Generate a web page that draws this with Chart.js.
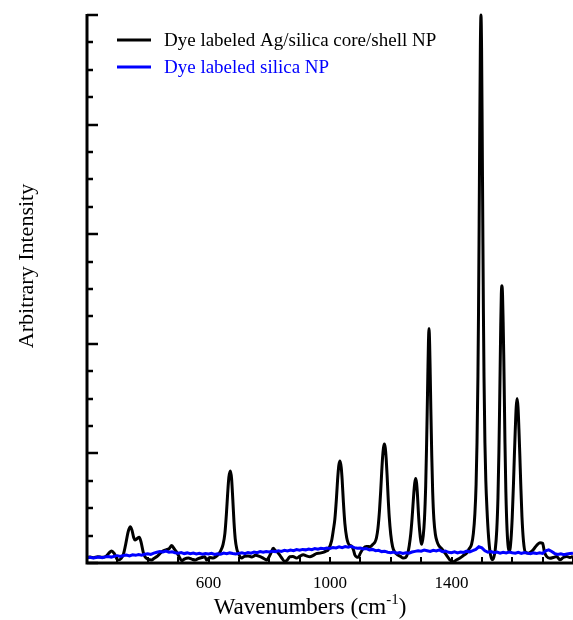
<!DOCTYPE html>
<html>
<head>
<meta charset="utf-8">
<script src="https://cdn.jsdelivr.net/npm/chart.js"></script>
<style>
  html, body { margin: 0; padding: 0; background: #fff; }
  #spectra { display: block; }
</style>
</head>
<body>
<canvas id="spectra" width="573" height="620"></canvas>
<script>
// Raman spectra: dye labelled Ag/silica core/shell NP vs dye labelled silica NP

const seriesNames = ['Dye labeled Ag/silica core/shell NP', 'Dye labeled silica NP'];
const xTickLabels = [600, 1000, 1400];

// core/shell spectrum (wavenumber, intensity)
const coreShellX = [
  200, 210, 222, 235, 250, 262, 272, 281, 290, 302, 312, 320, 328, 335, 342, 348, 354, 358, 364, 372,
  378, 385, 391, 400, 413, 420, 429, 440, 450, 460, 470, 479, 487, 495, 503, 512, 520, 534, 545, 556,
  566, 578, 588, 594, 604, 615, 625, 632, 638, 648, 654, 659, 663, 667, 672, 676, 680, 684, 688, 693,
  698, 709, 718, 730, 742, 755, 768, 780, 791, 800, 807, 813, 821, 830, 840, 852, 860, 868, 878, 890,
  900, 912, 922, 934, 945, 955, 967, 980, 988, 994, 1005, 1011, 1016, 1021, 1025, 1029, 1033, 1037, 1040, 1044,
  1049, 1055, 1060, 1066, 1071, 1077, 1082, 1088, 1093, 1100, 1110, 1120, 1132, 1141, 1148, 1153, 1158, 1163, 1167, 1170,
  1173, 1176, 1179, 1182, 1185, 1188, 1191, 1195, 1200, 1206, 1213, 1222, 1232, 1241, 1249, 1256, 1261, 1266, 1270, 1273,
  1276, 1279, 1282, 1285, 1288, 1291, 1295, 1299, 1302, 1307, 1311, 1315, 1318, 1320, 1322, 1324, 1326, 1328, 1330, 1332,
  1335, 1338, 1342, 1347, 1352, 1358, 1368, 1376, 1384, 1394, 1406, 1417, 1428, 1440, 1450, 1458, 1466, 1472, 1477, 1481,
  1484, 1487, 1489, 1491, 1493, 1495, 1497, 1499, 1501, 1503, 1505, 1507, 1510, 1513, 1517, 1521, 1526, 1533, 1539, 1544,
  1549, 1553, 1556, 1558, 1560, 1562, 1564, 1566, 1568, 1570, 1572, 1574, 1576, 1579, 1583, 1587, 1591, 1596, 1600, 1604,
  1607, 1610, 1613, 1616, 1619, 1622, 1625, 1628, 1632, 1637, 1643, 1653, 1661, 1669, 1680, 1691, 1700, 1706, 1713, 1724,
  1735, 1746, 1757, 1768, 1779, 1790, 1800
];
const coreShellY = [
  0.05, 0.055, 0.048, 0.058, 0.052, 0.06, 0.09, 0.11, 0.085, 0.027, 0.04, 0.08, 0.18, 0.28, 0.33, 0.3, 0.23, 0.21, 0.22, 0.235,
  0.19, 0.1, 0.057, 0.035, 0.027, 0.04, 0.057, 0.085, 0.11, 0.12, 0.13, 0.16, 0.13, 0.1, 0.06, 0.02, 0.035, 0.045, 0.035, 0.027,
  0.04, 0.05, 0.057, 0.027, 0.05, 0.045, 0.06, 0.075, 0.1, 0.17, 0.27, 0.45, 0.63, 0.78, 0.84, 0.77, 0.58, 0.37, 0.22, 0.13,
  0.09, 0.045, 0.06, 0.064, 0.055, 0.07, 0.06, 0.045, 0.027, 0.06, 0.1, 0.134, 0.11, 0.09, 0.05, 0.012, 0.03, 0.057, 0.06, 0.045,
  0.06, 0.075, 0.065, 0.057, 0.07, 0.085, 0.09, 0.1, 0.11, 0.12, 0.2, 0.3, 0.4, 0.58, 0.76, 0.89, 0.93, 0.87, 0.76, 0.56,
  0.36, 0.23, 0.18, 0.16, 0.155, 0.12, 0.073, 0.055, 0.052, 0.09, 0.134, 0.15, 0.149, 0.17, 0.19, 0.23, 0.32, 0.48, 0.66, 0.82,
  0.96, 1.05, 1.085, 1.05, 0.95, 0.8, 0.62, 0.42, 0.26, 0.15, 0.1, 0.075, 0.06, 0.045, 0.05, 0.09, 0.16, 0.27, 0.4, 0.52,
  0.64, 0.73, 0.77, 0.73, 0.62, 0.46, 0.3, 0.2, 0.17, 0.25, 0.4, 0.7, 1.08, 1.38, 1.7, 2.0, 2.14, 2.0, 1.72, 1.4,
  0.98, 0.65, 0.4, 0.26, 0.2, 0.16, 0.13, 0.1, 0.07, 0.03, 0.012, 0.03, 0.045, 0.07, 0.09, 0.13, 0.17, 0.27, 0.45, 0.72,
  1.1, 1.7, 2.3, 3.1, 3.95, 4.7, 5.0, 4.7, 3.95, 3.1, 2.3, 1.7, 1.1, 0.75, 0.48, 0.28, 0.12, 0.03, 0.05, 0.12,
  0.3, 0.6, 1.0, 1.35, 1.75, 2.15, 2.45, 2.53, 2.45, 2.2, 1.9, 1.5, 1.1, 0.65, 0.3, 0.14, 0.11, 0.22, 0.42, 0.72,
  0.98, 1.22, 1.42, 1.5, 1.42, 1.22, 0.98, 0.72, 0.42, 0.2, 0.1, 0.09, 0.1, 0.12, 0.16, 0.185, 0.18, 0.1, 0.06, 0.043,
  0.05, 0.06, 0.03, 0.05, 0.06, 0.05, 0.06
];

// silica spectrum, sampled every 10 cm-1 from 200
const silicaStart = 200;
const silicaStep = 10;
const silicaY = [
  0.048, 0.052, 0.045, 0.05, 0.055, 0.049, 0.056, 0.06, 0.054, 0.062,
  0.066, 0.06, 0.068, 0.072, 0.065, 0.074, 0.07, 0.078, 0.072, 0.08,
  0.085, 0.078, 0.09, 0.098, 0.105, 0.1, 0.108, 0.098, 0.102, 0.094,
  0.09, 0.096, 0.086, 0.092, 0.084, 0.09, 0.082, 0.088, 0.08, 0.086,
  0.082, 0.088, 0.078, 0.085, 0.08, 0.09, 0.084, 0.092, 0.086, 0.082,
  0.088, 0.094, 0.085, 0.096, 0.09, 0.1, 0.094, 0.104, 0.098, 0.105,
  0.1, 0.108, 0.104, 0.112, 0.106, 0.116, 0.11, 0.118, 0.112, 0.122,
  0.116, 0.124, 0.12, 0.128, 0.122, 0.132, 0.126, 0.134, 0.13, 0.136,
  0.132, 0.142, 0.138, 0.148, 0.14, 0.15, 0.144, 0.152, 0.14, 0.134,
  0.136, 0.128, 0.132, 0.12, 0.124, 0.112, 0.116, 0.104, 0.108, 0.098,
  0.094, 0.1, 0.09, 0.096, 0.088, 0.094, 0.09, 0.1, 0.106, 0.112,
  0.108, 0.118, 0.112, 0.106, 0.116, 0.11, 0.12, 0.104, 0.11, 0.098,
  0.094, 0.102, 0.092, 0.1, 0.096, 0.108, 0.102, 0.112, 0.124, 0.148,
  0.138, 0.112, 0.098, 0.104, 0.094, 0.1, 0.09, 0.098, 0.092, 0.1,
  0.094, 0.09, 0.098, 0.088, 0.096, 0.09, 0.084, 0.092, 0.086, 0.094,
  0.088, 0.11, 0.12, 0.105, 0.086, 0.078, 0.084, 0.076, 0.082, 0.086,
  0.09
];

const xMin = 200, xMax = 1800, xMinorStep = 100;
const yMin = 0, yMax = 5, yMinorStep = 0.25;

const SERIF = '"Liberation Serif", "Times New Roman", serif';

const coreShellPoints = coreShellX.map((x, i) => ({ x, y: coreShellY[i] }));
const silicaPoints = silicaY.map((y, i) => ({ x: silicaStart + i * silicaStep, y }));

// axis lines, inward ticks, legend and titles
const frame = {
  id: 'frame',
  afterDraw(chart) {
    const { ctx, chartArea: a, scales: { x, y } } = chart;
    ctx.save();
    ctx.strokeStyle = '#000';
    ctx.lineCap = 'butt';

    // ticks on bottom axis, every 100
    ctx.lineWidth = 2;
    for (let v = xMin; v <= xMax; v += xMinorStep) {
      const px = Math.round(x.getPixelForValue(v));
      ctx.beginPath();
      ctx.moveTo(px, a.bottom);
      ctx.lineTo(px, a.bottom - 6);
      ctx.stroke();
    }
    // ticks on left axis, long ones on whole numbers
    ctx.lineWidth = 2.5;
    for (let v = yMin; v <= yMax + 1e-9; v += yMinorStep) {
      const py = Math.round(y.getPixelForValue(v));
      const len = Math.abs(v - Math.round(v)) < 1e-6 ? 11 : 6;
      ctx.beginPath();
      ctx.moveTo(a.left, py);
      ctx.lineTo(a.left + len, py);
      ctx.stroke();
    }

    // axis lines
    ctx.lineWidth = 3;
    ctx.beginPath();
    ctx.moveTo(a.left, a.top - 1);
    ctx.lineTo(a.left, a.bottom);
    ctx.lineTo(a.right, a.bottom);
    ctx.stroke();

    // legend
    const legendRows = [
      { label: seriesNames[0], color: '#000', y: 40 },
      { label: seriesNames[1], color: '#0000ff', y: 67 }
    ];
    ctx.font = '19px ' + SERIF;
    ctx.textBaseline = 'middle';
    ctx.textAlign = 'left';
    legendRows.forEach(r => {
      ctx.strokeStyle = r.color;
      ctx.lineWidth = 3;
      ctx.beginPath();
      ctx.moveTo(117, r.y);
      ctx.lineTo(151, r.y);
      ctx.stroke();
      ctx.fillStyle = r.color;
      ctx.fillText(r.label, 164, r.y + 1);
    });

    // y title
    ctx.fillStyle = '#000';
    ctx.font = '22px ' + SERIF;
    ctx.save();
    ctx.translate(27, 266);
    ctx.rotate(-Math.PI / 2);
    ctx.textAlign = 'center';
    ctx.fillText('Arbitrary Intensity', 0, 0);
    ctx.restore();

    // x title with superscript
    const main = 'Wavenumbers (cm';
    const sup = '-1';
    const close = ')';
    ctx.font = '23px ' + SERIF;
    const w1 = ctx.measureText(main).width;
    const w3 = ctx.measureText(close).width;
    ctx.font = '15px ' + SERIF;
    const w2 = ctx.measureText(sup).width;
    const total = w1 + w2 + w3;
    let cx = 310 - total / 2;
    const base = 614;
    ctx.textBaseline = 'alphabetic';
    ctx.font = '23px ' + SERIF;
    ctx.fillText(main, cx, base);
    cx += w1;
    ctx.font = '15px ' + SERIF;
    ctx.fillText(sup, cx, base - 10);
    cx += w2;
    ctx.font = '23px ' + SERIF;
    ctx.fillText(close, cx, base);
    ctx.restore();
  }
};

new Chart(document.getElementById('spectra'), {
  type: 'line',
  data: {
    datasets: [
      {
        label: seriesNames[1],
        data: silicaPoints,
        borderColor: '#0000ff',
        borderWidth: 3,
        pointRadius: 0,
        tension: 0,
        order: 0,
        clip: false
      },
      {
        label: seriesNames[0],
        data: coreShellPoints,
        borderColor: '#000',
        borderWidth: 3,
        pointRadius: 0,
        cubicInterpolationMode: 'monotone',
        order: 1,
        clip: false
      }
    ]
  },
  options: {
    responsive: false,
    devicePixelRatio: 1,
    animation: false,
    layout: { autoPadding: false, padding: { top: 15, right: 0, left: 0, bottom: 0 } },
    plugins: {
      legend: { display: false },
      tooltip: { enabled: false }
    },
    scales: {
      x: {
        type: 'linear',
        min: xMin,
        max: xMax,
        grid: { display: false, drawTicks: false },
        border: { display: false },
        ticks: {
          stepSize: xMinorStep,
          autoSkip: false,
          maxRotation: 0,
          padding: 10,
          color: '#000',
          font: { family: SERIF, size: 17 },
          callback: v => xTickLabels.includes(v) ? String(v) : ''
        },
        afterFit: s => {
          s.height = 57;
          s.paddingLeft = 0;
          s.paddingRight = 0;
        }
      },
      y: {
        type: 'linear',
        min: yMin,
        max: yMax,
        grid: { display: false, drawTicks: false },
        border: { display: false },
        ticks: { display: false, stepSize: yMinorStep },
        afterFit: s => { s.width = 87; }
      }
    }
  },
  plugins: [frame]
});
</script>
</body>
</html>
